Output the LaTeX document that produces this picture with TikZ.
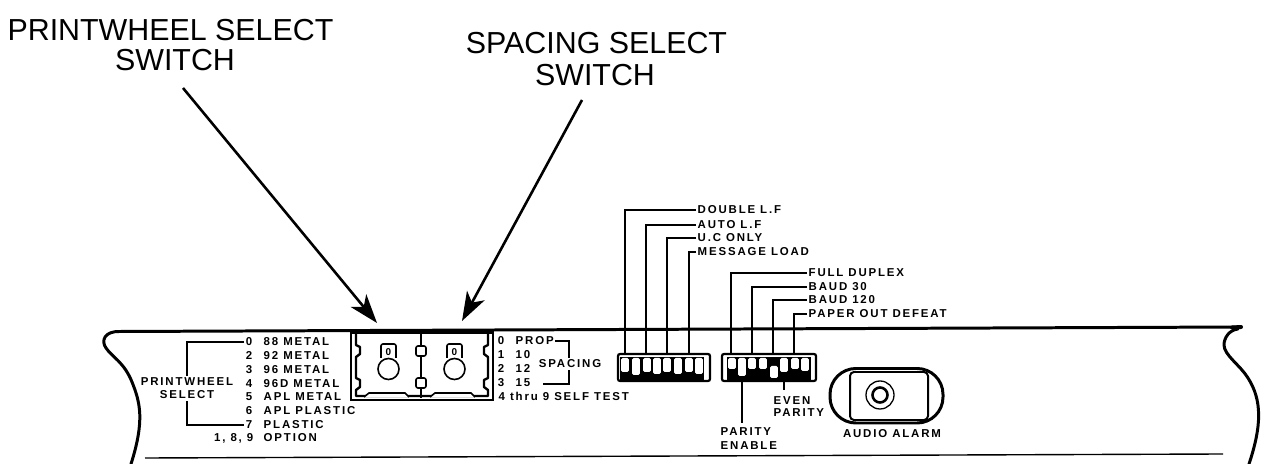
\documentclass[tikz,border=0pt]{standalone}
\usepackage{fontspec}
\setmainfont{Liberation Sans}
\newfontfamily\panelfont[LetterSpace=16]{Liberation Sans}
\usetikzlibrary{arrows.meta}
\tikzset{
  heading/.style={font=\fontsize{30.5}{32}\selectfont, inner sep=0pt},
  lab/.style={font=\panelfont\bfseries\fontsize{11.5}{12}\selectfont, inner sep=1.5pt, anchor=west, text height=8pt, text depth=0pt},
  labc/.style={lab, anchor=center},
  labr/.style={lab, anchor=east},
  leader/.style={line width=1.6pt},
  callout/.style={line width=2.6pt, -{Stealth[length=29pt,width=20pt,inset=8pt]}},
  panel/.style={line width=3pt, line cap=round},
  wall/.style={line width=2.4pt, line join=round},
  thin wall/.style={line width=1.6pt},
}
\begin{document}
\begin{tikzpicture}[x=1bp,y=-1bp]
\useasboundingbox (0,0) rectangle (1264,464);
% headings
\node[heading] (h1a) at (170.5,30) {PRINTWHEEL SELECT};
\node[heading] (h1b) at (175,60) {SWITCH};
\node[heading] (h2a) at (596.5,43) {SPACING SELECT};
\node[heading] (h2b) at (595,75) {SWITCH};
\coordinate (a1s) at (183,88);
\coordinate (a1e) at (377,323);
\coordinate (a2s) at (582,100);
\coordinate (a2e) at (462,321);
\draw[callout] (a1s) -- (a1e);
\draw[callout] (a2s) -- (a2e);
% panel outline
\draw[panel, line join=round] (1241,327) -- (120,331.5)
  .. controls (104,331) and (101,341) .. (106,348)
  .. controls (112,357) and (124,362) .. (132,382)
  .. controls (140,402) and (145,420) .. (131,464);
\draw[line width=4pt, line cap=round] (1232,327.5) -- (1241,327);
\draw[panel] (1238,329) .. controls (1229,330) and (1224,338) .. (1224,345)
  .. controls (1224,355) and (1240,365) .. (1248,378)
  .. controls (1262,400) and (1262,425) .. (1249,464);
\draw[line width=1.4pt] (145,458) -- (1223,454);
% printwheel labels
\node[labc] (pw1) at (187,382) {PRINTWHEEL};
\node[labc] (pw2) at (187,395) {SELECT};
\foreach \n/\y/\t in {a/342/88 METAL,b/356/92 METAL,c/370/96 METAL,d/384/96D METAL,e/397/APL METAL,f/411/APL PLASTIC,g/425/PLASTIC}{
  \node[lab] (v\n) at (262,\y) {\t};
}
\foreach \n/\y/\t in {a/342/0,b/356/2,c/370/3,d/384/4,e/397/5,f/411/6,g/425/7}{
  \node[labc] (k\n) at (249,\y) {\t};
}
\node[labr] (kh) at (255,438) {1, 8, 9};
\node[lab] (vh) at (262,438) {OPTION};
\draw[leader] (ka.west) -| (pw1.north -| 187,365);
\draw[leader] (kg.west) -| (pw2.south);
% switch box
\draw[line width=2.2pt] (351,331) -- (351,400) -- (493,400) -- (493,331);
\draw[line width=3.4pt] (351,332.5) -- (493,332.5);
\draw[wall] (356,333) -- (356,345) -- (360,347) -- (360,354) -- (356,357) -- (356,378) -- (360,380) -- (360,387) -- (356,390) -- (356,396) -- (488,396) -- (488,390) -- (484,387) -- (484,380) -- (488,378) -- (488,357) -- (484,354) -- (484,347) -- (488,345) -- (488,333);
\draw[line width=2.6pt] (421,333) -- (421,398);
\foreach \y in {351,383}{
  \draw[line width=1.6pt, fill=white, rounded corners=2pt] (416,\y-5) rectangle (426,\y+5);
}
\foreach \x in {0,66}{
  \draw[thin wall, fill=white] (\x+364,397) -- (\x+369,393) -- (\x+405,393) -- (\x+409,397);
  \draw[thin wall, rounded corners=2pt] (\x+381,358) -- (\x+381,344) -- (\x+396,344) -- (\x+396,358);
  \draw[line width=1.6pt, fill=white] (\x+388.5,369) circle (10.5);
}
\node[labc, font=\bfseries\fontsize{10}{10}\selectfont, text height=7pt] (d1) at (388.5,352) {0};
\node[labc, font=\bfseries\fontsize{10}{10}\selectfont, text height=7pt] (d2) at (454.5,352) {0};
% spacing labels
\foreach \n/\y/\a/\b in {p/341/0/PROP,q/355/1/10,r/369/2/12,s/383/3/15}{
  \node[labc] (sk\n) at (501,\y) {\a};
  \node[lab] (sv\n) at (514,\y) {\b};
}
\node[lab] (st) at (497,397) {4 thru 9  SELF TEST};
\node[labc] (sp) at (570,364) {SPACING};
\draw[leader] (svp.east) -| (sp.north -| 569,354);
\draw[leader] (543,384) -| (sp.south -| 569,373);
% DIP switches
\draw[line width=2.2pt, rounded corners=2pt] (618,354) rectangle (710,381);
\fill[black] (620,357) rectangle (704,380);
\foreach \x/\t/\b in {625/358/372,636/358/375,647/358/372,657/358/374,667/358/372,678/358/374,689/358/372,699/358/374}{
  \fill[white, rounded corners=1.5pt] (\x-3.8,\t) rectangle (\x+3.8,\b);
}
\draw[line width=2.2pt, rounded corners=2pt] (722,354) rectangle (816,381);
\fill[black] (727,357) rectangle (811,380);
\foreach \x/\t/\b in {732/358/369,742/358/376,752/358/369,763/358/369,774/366/378,784/358/372,795/358/369,805/358/371}{
  \fill[white, rounded corners=1.5pt] (\x-3.8,\t) rectangle (\x+3.8,\b);
}
\foreach \n/\x in {a/625,b/646,c/667,d/689,e/731,f/752,g/773,h/794}{
  \coordinate (t\n) at (\x,355);
}
\node[lab] (l1) at (696,210) {DOUBLE L.F};
\node[lab] (l2) at (696,225) {AUTO L.F};
\node[lab] (l3) at (696,238) {U.C ONLY};
\node[lab] (l4) at (696,252) {MESSAGE LOAD};
\node[lab] (l5) at (807,273) {FULL DUPLEX};
\node[lab] (l6) at (807,287) {BAUD 30};
\node[lab] (l7) at (807,300) {BAUD 120};
\node[lab] (l8) at (807,314) {PAPER OUT DEFEAT};
\draw[leader] (l1.west) -| (ta);
\draw[leader] (l2.west) -| (tb);
\draw[leader] (l3.west) -| (tc);
\draw[leader] (l4.west) -| (td);
\draw[leader] (l5.west) -| (te);
\draw[leader] (l6.west) -| (tf);
\draw[leader] (l7.west) -| (tg);
\draw[leader] (l8.west) -| (th);
\node[lab] (e1) at (772,401) {EVEN};
\node[lab] (e2) at (772,413) {PARITY};
\node[lab] (pe1) at (719,432) {PARITY};
\node[lab] (pe2) at (719,446) {ENABLE};
\coordinate (sw2) at (742,376);
\coordinate (sw6) at (784,372);
\coordinate (pe) at (742,423);
\coordinate (ev) at (784,390);
\draw[leader] (sw2) -- (pe);
\draw[leader] (sw6) -- (ev);
% audio alarm
\draw[line width=3pt, rounded corners=26pt] (830,368.5) rectangle (943,423);
\draw[line width=2pt, rounded corners=4pt] (850,372) rectangle (928,420);
\draw[line width=1.3pt] (880,395) circle (14);
\draw[line width=2.6pt] (880,395) circle (7.5);
\node[labc] (aa) at (892,434) {AUDIO ALARM};
\end{tikzpicture}
\end{document}
